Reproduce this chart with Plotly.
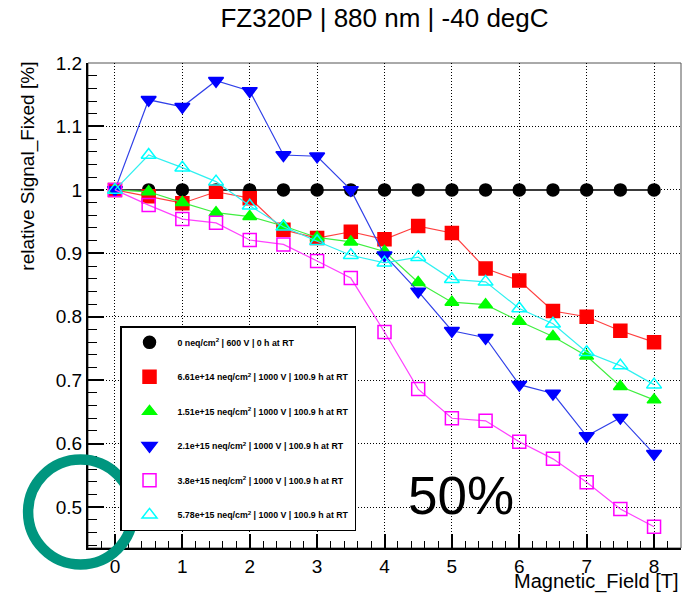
import plotly.graph_objects as go

field = [0, 0.5, 1, 1.5, 2, 2.5, 3, 3.5, 4, 4.5, 5, 5.5, 6, 6.5, 7, 7.5, 8]

sig_0 = [1.0] * 17
sig_661e14 = [1.0, 0.990, 0.979, 0.997, 0.987, 0.937, 0.924, 0.934, 0.922, 0.943,
              0.932, 0.876, 0.857, 0.809, 0.800, 0.778, 0.760]
sig_151e15 = [1.0, 0.997, 0.980, 0.964, 0.958, 0.943, 0.925, 0.918, 0.903, 0.854,
              0.823, 0.819, 0.793, 0.769, 0.738, 0.690, 0.669]
sig_21e15 = [1.0, 1.142, 1.131, 1.172, 1.156, 1.055, 1.053, 1.000, 0.897, 0.840,
             0.778, 0.767, 0.693, 0.679, 0.612, 0.641, 0.584]
sig_38e15 = [1.0, 0.976, 0.954, 0.948, 0.921, 0.914, 0.888, 0.861, 0.776, 0.686,
             0.640, 0.636, 0.603, 0.576, 0.539, 0.497, 0.469]
sig_578e15 = [1.0, 1.055, 1.035, 1.013, 0.975, 0.942, 0.919, 0.897, 0.885, 0.894,
              0.859, 0.855, 0.813, 0.789, 0.744, 0.723, 0.693]

names = [
    "<b>0 neq/cm<sup>2</sup> | 600 V | 0 h at RT</b>",
    "<b>6.61e+14 neq/cm<sup>2</sup> | 1000 V | 100.9 h at RT</b>",
    "<b>1.51e+15 neq/cm<sup>2</sup> | 1000 V | 100.9 h at RT</b>",
    "<b>2.1e+15 neq/cm<sup>2</sup> | 1000 V | 100.9 h at RT</b>",
    "<b>3.8e+15 neq/cm<sup>2</sup> | 1000 V | 100.9 h at RT</b>",
    "<b>5.78e+15 neq/cm<sup>2</sup> | 1000 V | 100.9 h at RT</b>",
]
series = [sig_0, sig_661e14, sig_151e15, sig_21e15, sig_38e15, sig_578e15]
marker_colors = ["#000000", "#ff0000", "#00ff00", "#0000ff", "#ff00ff", "#00ffff"]
line_colors = ["#3a3a3a", "#ff4040", "#40ee40", "#3040e8", "#ff40ff", "#30f0f0"]
line_widths = [2, 1.2, 1.2, 1.2, 1.2, 1.2]
symbols = ["circle", "square", "triangle-up", "triangle-down", "square-open", "triangle-up-open"]
sizes = [12, 13, 12, 13, 13, 13]

fig = go.Figure()
for i, (nm, ys) in enumerate(zip(names, series)):
    fig.add_trace(go.Scatter(
        x=field, y=ys, mode="lines", showlegend=False, hoverinfo="skip",
        legendgroup=f"g{i}",
        line=dict(color=line_colors[i], width=line_widths[i]),
    ))
    fig.add_trace(go.Scatter(
        x=field, y=ys, mode="markers", name=nm, legendgroup=f"g{i}",
        marker=dict(symbol=symbols[i], size=sizes[i], color=marker_colors[i],
                    line=dict(color=marker_colors[i], width=1.5)),
    ))

font_family = "Liberation Sans, Arial, sans-serif"

# frame (top/right thin gray)
fig.add_shape(type="rect", xref="paper", yref="paper", x0=0, x1=1, y0=0, y1=1,
              line=dict(color="#555555", width=1), layer="below")

# teal circle
fig.add_shape(type="circle", xref="paper", yref="paper",
              x0=-0.101, x1=0.0758, y0=-0.034, y1=0.1825,
              line=dict(color="#00967f", width=10.5), layer="above")

fig.update_layout(
    width=685, height=593,
    margin=dict(l=88, r=4, t=63, b=45),
    paper_bgcolor="white", plot_bgcolor="white",
    font=dict(family=font_family, color="black"),
    title=dict(text="FZ320P | 880 nm | -40 degC", x=0.5, xref="paper", xanchor="center",
               y=1 - 18 / 593, yref="container", yanchor="middle",
               font=dict(size=26, family=font_family, color="black")),
    showlegend=True,
    legend=dict(x=0.054, y=0.457, xanchor="left", yanchor="top",
                bgcolor="white", bordercolor="black", borderwidth=1.5,
                font=dict(size=8.8, family=font_family, color="black"),
                tracegroupgap=15.5, itemwidth=46, traceorder="grouped"),
    xaxis=dict(range=[-0.4, 8.4], tickmode="array", tickvals=list(range(9)),
               ticktext=[str(v) for v in range(9)],
               showline=True, linecolor="black", linewidth=2,
               ticks="inside", ticklen=14, tickwidth=1.5, tickcolor="black",
               minor=dict(dtick=0.2, ticks="inside", ticklen=7, tickcolor="black", tickwidth=1, showgrid=False),
               showgrid=True, gridcolor="black", gridwidth=1, griddash="1px,2px",
               zeroline=False, tickfont=dict(size=19, family=font_family, color="black")),
    yaxis=dict(range=[0.4355, 1.2], tickmode="array",
               tickvals=[0.5, 0.6, 0.7, 0.8, 0.9, 1.0, 1.1, 1.2],
               ticktext=["0.5", "0.6", "0.7", "0.8", "0.9", "1", "1.1", "1.2"],
               showline=True, linecolor="black", linewidth=2,
               ticks="inside", ticklen=16, tickwidth=1.5, tickcolor="black",
               minor=dict(dtick=0.02, tick0=0.5, ticks="inside", ticklen=9, tickcolor="black", tickwidth=1, showgrid=False),
               showgrid=True, gridcolor="black", gridwidth=1, griddash="1px,2px",
               zeroline=False, tickfont=dict(size=19, family=font_family, color="black")),
    annotations=[
        dict(text="relative Signal_Fixed [%]", textangle=-90, xref="paper", yref="paper",
             x=-(88 - 27) / 594, y=1.006, xanchor="center", yanchor="top", showarrow=False,
             font=dict(size=19, family=font_family, color="black")),
        dict(text="Magnetic_Field [T]", xref="paper", yref="paper",
             x=1.0, y=-(581 - 548) / 485, xanchor="right", yanchor="middle", showarrow=False,
             font=dict(size=20, family=font_family, color="black")),
        dict(text="50%", xref="x", yref="y", x=5.13, y=0.519, xanchor="center", yanchor="middle",
             showarrow=False, font=dict(size=53, family=font_family, color="black")),
    ],
)

fig.write_html("out.html")
